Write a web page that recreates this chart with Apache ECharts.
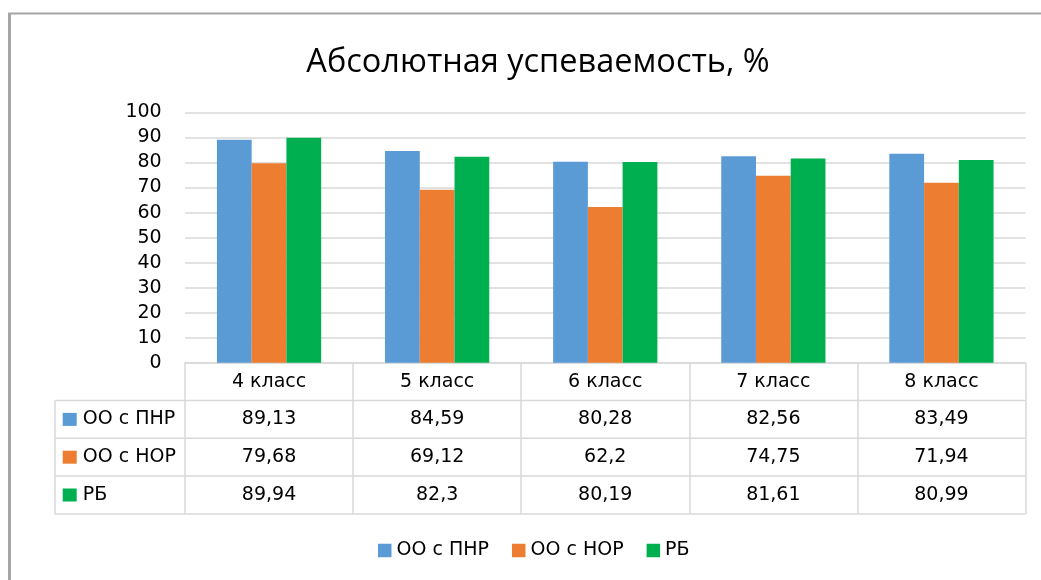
<!DOCTYPE html>
<html><head><meta charset="utf-8">
<script src="https://cdn.jsdelivr.net/npm/echarts@6/dist/echarts.min.js"></script>
<style>html,body{margin:0;padding:0;background:#fff}#c{width:1041px;height:580px}</style>
</head><body><div id="c"></div>
<script>
// ---- data ----
const categories = ['4 класс', '5 класс', '6 класс', '7 класс', '8 класс'];
const seriesNames = ['ОО с ПНР', 'ОО с НОР', 'РБ'];
const valuesPNR = [89.13, 84.59, 80.28, 82.56, 83.49];
const valuesNOR = [79.68, 69.12, 62.2, 74.75, 71.94];
const valuesRB = [89.94, 82.3, 80.19, 81.61, 80.99];
const yMin = 0, yMax = 100, yStep = 10;
const titleText = 'Абсолютная успеваемость, %';

// ---- style / layout ----
const colors = ['#5b9bd5', '#ed7d31', '#00b050'];
const seriesValues = [valuesPNR, valuesNOR, valuesRB];
const FONT = 'DejaVu Sans';
const FS = 19;
const W = 1041, H = 580;
const gridL = 185, gridR = 1025.5, gridT = 112.5, axisY = 362.7;
const tableL = 55, rowH = 37.8, keyX = 62.7;
const lineCol = '#d9d9d9';
const fmt = v => String(v).replace('.', ',');

const xAxes = [{
  type: 'category', data: categories, gridIndex: 0, position: 'bottom',
  axisLine: { show: true, lineStyle: { color: lineCol, width: 1.5 } },
  axisTick: { show: true, interval: 0, length: rowH * 4, lineStyle: { color: lineCol, width: 1.5 } },
  axisLabel: { interval: 0, margin: rowH / 2, verticalAlign: 'middle', fontFamily: FONT, fontSize: FS, color: '#000' },
  splitLine: { show: false }
}];
seriesValues.forEach((vals, i) => {
  xAxes.push({
    type: 'category', data: vals.map(fmt), gridIndex: 0, position: 'bottom',
    offset: rowH * (i + 1) + rowH / 2,
    axisLine: { show: false }, axisTick: { show: false }, splitLine: { show: false },
    axisLabel: { interval: 0, margin: 0, verticalAlign: 'middle', fontFamily: FONT, fontSize: FS, color: '#000' },
    name: '{sq|}{gap|}' + seriesNames[i], nameLocation: 'start', nameGap: gridL - keyX,
    nameMoveOverlap: false,
    nameTextStyle: {
      align: 'left', verticalAlign: 'middle', fontFamily: FONT, fontSize: FS, color: '#000',
      rich: {
        sq: { width: 14, height: 13, backgroundColor: colors[i], verticalAlign: 'middle' },
        gap: { width: 6 }
      }
    }
  });
});

// table grid lines (derived from layout constants)
const gLines = [];
for (let k = 1; k <= 4; k++) {
  const y = axisY + rowH * k;
  gLines.push({ type: 'line', shape: { x1: tableL, y1: y, x2: gridR, y2: y }, style: { stroke: lineCol, lineWidth: 1.5 }, silent: true });
}
gLines.push({ type: 'line', shape: { x1: tableL, y1: axisY + rowH, x2: tableL, y2: axisY + rowH * 4 }, style: { stroke: lineCol, lineWidth: 1.5 }, silent: true });
// outer chart border
gLines.push({ type: 'line', shape: { x1: 8, y1: 13.5, x2: W + 10, y2: 13.5 }, style: { stroke: '#a6a6a6', lineWidth: 2 }, silent: true });
gLines.push({ type: 'line', shape: { x1: 9.5, y1: 13, x2: 9.5, y2: H + 10 }, style: { stroke: '#a6a6a6', lineWidth: 3 }, silent: true });

const chart = echarts.init(document.getElementById('c'), null, { renderer: 'canvas' });
chart.setOption({
  animation: false,
  backgroundColor: '#fff',
  title: {
    text: titleText, left: 533, textAlign: 'center', top: 41,
    textStyle: { fontFamily: 'Open Sans', fontSize: 32.5, fontWeight: 'normal', color: '#000' }
  },
  grid: { left: gridL, right: W - gridR, top: gridT, bottom: H - axisY, containLabel: false, outerBoundsMode: 'none' },
  xAxis: xAxes,
  yAxis: {
    type: 'value', min: yMin, max: yMax, interval: yStep,
    axisLine: { show: false }, axisTick: { show: false },
    splitLine: { lineStyle: { color: lineCol, width: 1.5 } },
    axisLabel: { margin: 23.3, fontFamily: FONT, fontSize: FS, color: '#000' }
  },
  legend: {
    data: seriesNames, left: 373, top: 536, padding: 5, icon: 'rect', itemWidth: 13.5, itemHeight: 13.5, itemGap: 23,
    textStyle: { fontFamily: FONT, fontSize: FS, color: '#000' }, selectedMode: false
  },
  graphic: gLines,
  series: seriesNames.map((n, i) => ({
    type: 'bar', name: n, data: seriesValues[i], xAxisIndex: 0, yAxisIndex: 0,
    barGap: '0%', barCategoryGap: '38%', itemStyle: { color: colors[i] },
    emphasis: { disabled: true }
  }))
});
</script>
</body></html>
